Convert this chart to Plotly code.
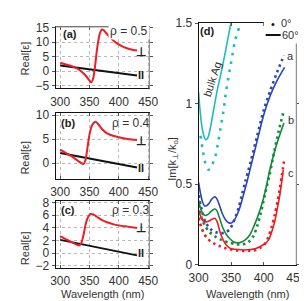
import plotly.graph_objects as go

W, H = 307, 301
def PX(x): return x / W
def PY(y): return 1 - y / H

# ---------------- data ----------------
# panel (a) rho=0.5
wl_a_perp = [300, 310, 320, 330, 340, 345, 350, 353, 356, 359, 362, 365, 368, 371, 374, 378, 385, 395, 405, 415, 425, 431]
re_a_perp = [2.9, 2.3, 1.7, 0.8, -0.8, -1.9, -3.2, -3.8, -2.6, 1.0, 6.3, 10.5, 13.2, 14.3, 14.1, 13.2, 11.6, 9.8, 8.6, 7.8, 7.3, 7.1]
wl_a_par = [300, 350, 400, 431]
re_a_par = [2.0, 0.6, -0.55, -1.45]
# panel (b) rho=0.4
wl_b_perp = [300, 310, 320, 330, 336, 340, 343, 346, 350, 354, 358, 361, 365, 372, 380, 390, 400, 415, 431]
re_b_perp = [2.8, 2.1, 1.4, 0.5, 0.0, -0.15, 0.6, 2.8, 6.0, 7.8, 8.5, 8.6, 8.1, 7.0, 6.2, 5.7, 5.4, 5.05, 4.8]
wl_b_par = [300, 365, 431]
re_b_par = [2.1, 0.6, -0.9]
# panel (c) rho=0.3
wl_c_perp = [300, 310, 320, 328, 333, 336, 340, 344, 348, 352, 356, 362, 370, 380, 390, 400, 415, 431]
re_c_perp = [2.7, 2.2, 1.7, 1.35, 1.25, 1.6, 3.0, 4.8, 5.8, 6.2, 6.15, 5.8, 5.3, 4.9, 4.6, 4.4, 4.2, 4.0]
wl_c_par = [300, 365, 431]
re_c_par = [2.1, 0.9, -0.35]

# panel (d): Im[k_perp/k_o]
wl_bulk_60 = [300, 302, 305, 308, 311, 314, 317, 320, 323, 328, 335, 342, 349.5]
im_bulk_60 = [1.07, 0.97, 0.86, 0.80, 0.775, 0.785, 0.83, 0.89, 0.96, 1.07, 1.2, 1.34, 1.5]
wl_bulk_0 = [303, 306, 309, 312, 315, 318, 321, 325, 330, 335, 338, 342, 349, 356, 362]
im_bulk_0 = [0.8, 0.72, 0.65, 0.61, 0.59, 0.595, 0.62, 0.66, 0.76, 0.88, 0.95, 1.07, 1.235, 1.39, 1.47]

wl_a_60 = [300, 303, 306, 309, 312, 316, 320, 324, 327, 331, 336, 341, 346, 350, 354, 358, 363, 368, 374, 382, 390, 400, 410, 420, 432]
im_a_60 = [0.51, 0.44, 0.39, 0.365, 0.365, 0.38, 0.405, 0.42, 0.415, 0.38, 0.32, 0.28, 0.26, 0.258, 0.27, 0.3, 0.35, 0.42, 0.51, 0.64, 0.77, 0.93, 1.05, 1.14, 1.225]
wl_a_0 = [300, 303, 306, 310, 315, 320, 327, 335, 342, 348, 353, 358, 362, 366, 372, 380, 390, 400, 410, 420, 431]
im_a_0 = [0.43, 0.37, 0.32, 0.27, 0.235, 0.215, 0.2, 0.195, 0.2, 0.22, 0.26, 0.31, 0.36, 0.425, 0.52, 0.64, 0.8, 0.96, 1.08, 1.19, 1.3]

wl_b_60 = [300, 303, 306, 310, 314, 318, 322, 325, 328, 332, 337, 342, 348, 354, 360, 366, 372, 378, 384, 390, 396, 402, 410, 420, 431]
im_b_60 = [0.40, 0.35, 0.32, 0.305, 0.31, 0.325, 0.34, 0.345, 0.335, 0.29, 0.23, 0.19, 0.16, 0.14, 0.135, 0.14, 0.155, 0.18, 0.23, 0.29, 0.36, 0.45, 0.6, 0.75, 0.88]
wl_b_0 = [300, 303, 306, 310, 315, 320, 327, 334, 340, 348, 356, 364, 372, 378, 384, 390, 396, 402, 409, 416, 423, 431]
im_b_0 = [0.37, 0.31, 0.275, 0.24, 0.21, 0.19, 0.17, 0.155, 0.145, 0.135, 0.128, 0.124, 0.13, 0.145, 0.175, 0.24, 0.33, 0.44, 0.56, 0.7, 0.83, 0.96]

wl_c_60 = [300, 304, 308, 312, 316, 320, 325, 329, 333, 338, 343, 349, 355, 362, 370, 380, 388, 396, 402, 407, 412, 417, 421, 425, 430]
im_c_60 = [0.34, 0.29, 0.267, 0.265, 0.27, 0.28, 0.287, 0.26, 0.2, 0.15, 0.12, 0.1, 0.095, 0.093, 0.09, 0.093, 0.1, 0.115, 0.13, 0.15, 0.2, 0.27, 0.35, 0.44, 0.59]
wl_c_0 = [300, 304, 308, 312, 318, 325, 332, 340, 348, 358, 368, 378, 388, 395, 402, 407, 412, 417, 421, 425, 428, 431]
im_c_0 = [0.29, 0.235, 0.195, 0.17, 0.145, 0.128, 0.115, 0.103, 0.095, 0.088, 0.085, 0.086, 0.09, 0.105, 0.13, 0.17, 0.23, 0.31, 0.39, 0.48, 0.56, 0.64]

x_ticks = [300, 350, 400, 450]

# ---------------- style ----------------
RED = "#ee1c24"
BLK = "#111111"
CYAN = "#1dbcbc"
BLUE = "#2a46b8"
GREEN = "#128a3a"
FONT = "Liberation Sans"
TXT = "#333333"

fig = go.Figure()

def add(x, y, color, xa, ya, width=2.0, dash=None, shape="spline"):
    line = dict(color=color, width=width, shape=shape, smoothing=0.8)
    if dash:
        line["dash"] = dash
    fig.add_trace(go.Scatter(x=x, y=y, mode="lines", line=line, xaxis=xa, yaxis=ya,
                             showlegend=False, hoverinfo="skip"))

add(wl_a_par, re_a_par, BLK, "x", "y", shape="linear")
add(wl_a_perp, re_a_perp, RED, "x", "y")
add(wl_b_par, re_b_par, BLK, "x2", "y2", shape="linear")
add(wl_b_perp, re_b_perp, RED, "x2", "y2")
add(wl_c_par, re_c_par, BLK, "x3", "y3", shape="linear")
add(wl_c_perp, re_c_perp, RED, "x3", "y3")

DOT = "2.5px,3.5px"
add(wl_bulk_60, im_bulk_60, CYAN, "x4", "y4", width=1.6)
add(wl_bulk_0, im_bulk_0, CYAN, "x4", "y4", width=2.6, dash="2.5px,6px")
add(wl_a_60, im_a_60, BLUE, "x4", "y4", width=1.6)
add(wl_a_0, im_a_0, BLUE, "x4", "y4", width=2.6, dash=DOT)
add(wl_b_60, im_b_60, GREEN, "x4", "y4", width=1.6)
add(wl_b_0, im_b_0, GREEN, "x4", "y4", width=2.6, dash=DOT)
add(wl_c_60, im_c_60, RED, "x4", "y4", width=1.6)
add(wl_c_0, im_c_0, RED, "x4", "y4", width=2.6, dash=DOT)

tickfont = dict(family=FONT, size=12, color=TXT)

def xax(dom, anchor, rng, grid):
    return dict(domain=dom, anchor=anchor, range=rng, tickvals=x_ticks,
                showgrid=grid, gridcolor="#b8b8b8", griddash="dot", gridwidth=1,
                zeroline=False, showline=True, linecolor=BLK, linewidth=1, mirror="ticks",
                ticks="inside", ticklen=3, tickcolor="#555", tickfont=tickfont,
                ticklabelstandoff=2)

def yax(dom, anchor, rng, tv, grid):
    return dict(domain=dom, anchor=anchor, range=rng, tickvals=tv,
                showgrid=grid, gridcolor="#b8b8b8", griddash="dot", gridwidth=1,
                zeroline=False, showline=True, linecolor=BLK, linewidth=1, mirror="ticks",
                ticks="outside", ticklen=3, tickcolor="#555", tickfont=tickfont)

xd_abc = [PX(40), PX(140)]
fig.update_layout(
    xaxis=xax(xd_abc, "y", [292, 452], True),
    yaxis=yax([PY(77), PY(12.5)], "x", [-5.9, 15.2], [-5, 0, 5, 10, 15], True),
    xaxis2=xax(xd_abc, "y2", [292, 452], True),
    yaxis2=yax([PY(172), PY(103)], "x2", [-3.3, 10.4], [0, 5, 10], True),
    xaxis3=xax(xd_abc, "y3", [292, 452], True),
    yaxis3=yax([PY(265), PY(195)], "x3", [-2.3, 8.27], [-2, 0, 2, 4, 6, 8], True),
    xaxis4=xax([PX(192.5), PX(296.7)], "y4", [300, 450], False),
    yaxis4=yax([PY(261.7), PY(8.5)], "x4", [0, 1.5], [0, 0.5, 1, 1.5], False),
)

shapes = []
# gray right borders (and top of panel a)
for xr, yr in [("x", "y"), ("x2", "y2"), ("x3", "y3"), ("x4", "y4")]:
    shapes.append(dict(type="line", xref=xr + " domain", yref=yr + " domain",
                       x0=1, x1=1, y0=0, y1=1, line=dict(color="#9a9a9a", width=1.2), layer="above"))
shapes.append(dict(type="line", xref="x domain", yref="y domain", x0=0, x1=1, y0=1, y1=1,
                   line=dict(color="#9a9a9a", width=1.2), layer="above"))
# legend box mask in panel d
shapes.append(dict(type="rect", xref="paper", yref="paper", x0=PX(262), x1=1.0, y0=PY(30), y1=1.0,
                   fillcolor="white", line=dict(width=0), layer="above"))
# legend line glyph
shapes.append(dict(type="line", xref="paper", yref="paper", x0=PX(264), x1=PX(280), y0=PY(21), y1=PY(21),
                   line=dict(color=BLK, width=2), layer="above"))
fig.update_layout(shapes=shapes)

ann = []
def A(x, y, text, size=11, color=TXT, **kw):
    d = dict(x=PX(x), y=PY(y), xref="paper", yref="paper", text=text, showarrow=False,
             font=dict(family=FONT, size=size, color=color), xanchor="center", yanchor="middle")
    d.update(kw)
    ann.append(d)

A(55, 20, "<b>(a)</b>", 11, "#222")
A(53, 113, "<b>(b)</b>", 11, "#222")
A(53, 204, "<b>(c)</b>", 11, "#222")
A(118, 17, "ρ = 0.5", 12, "#333", bgcolor="white")
A(120, 113, "ρ = 0.4", 12, "#333")
A(120, 204, "ρ = 0.3", 12, "#333")
for yy in (38.3, 131.7, 223.3):
    A(131, yy, "<b>⊥</b>", 12, "#222")
for yy in (62.7, 160, 250):
    A(131, yy, "<b>II</b>", 11, "#222")
for yy in (46, 150, 245):
    A(7, yy, "Real[ε]", 11, TXT, textangle=-90)
A(90, 293, "Wavelength (nm)", 11, TXT)
A(245, 293, "Wavelength (nm)", 11, TXT)
A(165, 151, "Im[k<sub>⊥</sub>/k<sub>o</sub>]", 11, TXT, textangle=-90)
A(207, 67, "bulk Ag", 11, "#333", textangle=-72)
A(202, 17, "<b>(d)</b>", 11, "#222")
A(291, 43, "a", 11, "#333")
A(291, 110, "b", 11, "#333")
A(291, 166, "c", 11, "#333")
A(272, 9, "•", 11, "#111")
A(286, 8.5, "0°", 11, "#333")
A(291, 21.5, "60°", 11, "#333")
fig.update_layout(annotations=ann)

fig.update_layout(width=W, height=H, margin=dict(l=0, r=0, t=0, b=0),
                  paper_bgcolor="white", plot_bgcolor="white", showlegend=False)
fig.write_html("out.html")
